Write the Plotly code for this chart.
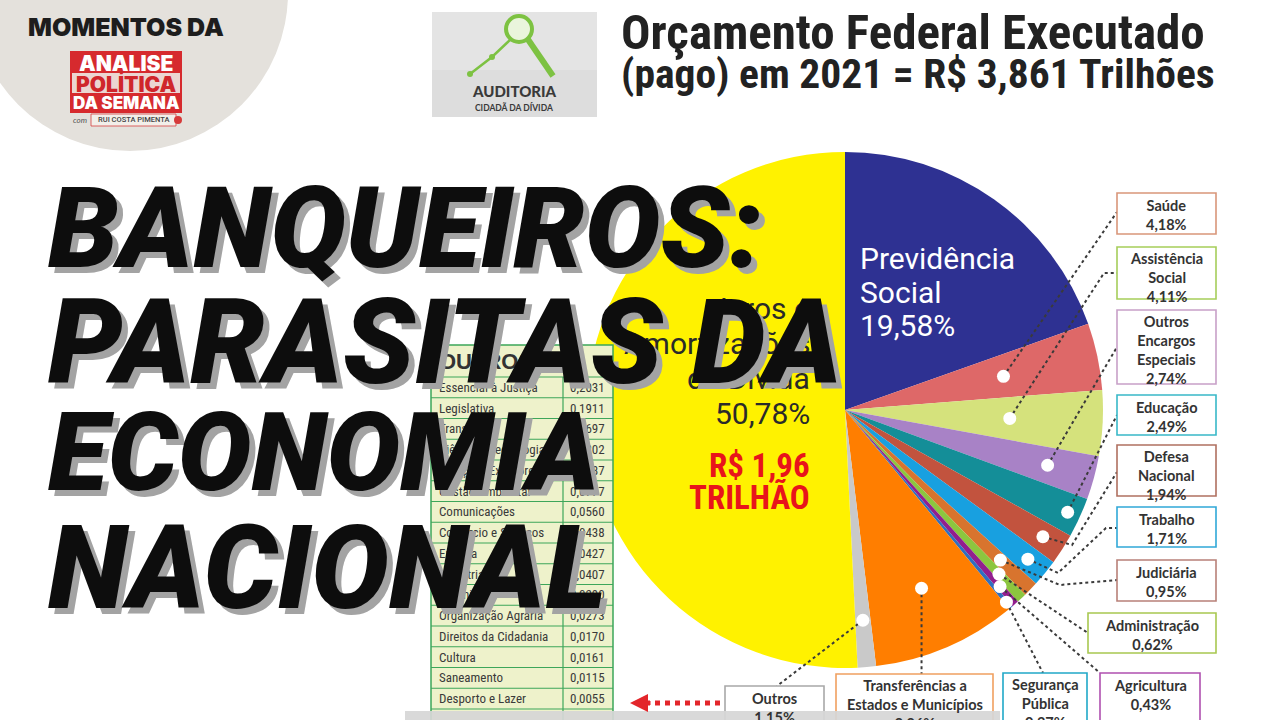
import math
import plotly.graph_objects as go

W, H = 1280, 720


def X(px):
    return px / W


def Y(py):
    return 1 - py / H


# ---------------- data ----------------
categories = [
    "Previdência Social", "Saúde", "Assistência Social", "Outros Encargos Especiais",
    "Educação", "Defesa Nacional", "Trabalho", "Judiciária", "Administração",
    "Agricultura", "Segurança Pública", "Transferências a Estados e Municípios",
    "Outros", "Juros e Amortizações da Dívida",
]
shares = [19.58, 4.18, 4.11, 2.74, 2.49, 1.94, 1.71, 0.95, 0.62, 0.43, 0.27, 9.06, 1.15, 50.78]

outros_items = [
    "Essencial à Justiça", "Legislativa", "Transporte", "Ciência e Tecnologia",
    "Relações Exteriores", "Gestão Ambiental", "Comunicações", "Comércio e Serviços",
    "Energia", "Indústria", "Urbanismo", "Organização Agrária",
    "Direitos da Cidadania", "Cultura", "Saneamento", "Desporto e Lazer",
]
outros_values = [0.2031, 0.1911, 0.1697, 0.1202, 0.0987, 0.0777, 0.0560, 0.0438,
                 0.0427, 0.0407, 0.0290, 0.0273, 0.0170, 0.0161, 0.0115, 0.0055]

total_budget = "3,861"
juros_value = "1,96"

# ---------------- styles / layout ----------------
slice_colors = ["#2E3192", "#DE6868", "#D5E27C", "#A882C6", "#148E98", "#C2533E",
                "#18A0E0", "#D8742E", "#8CC63F", "#921E8E", "#2F6FC0", "#FF7E00",
                "#C9C9C9", "#FFF200"]

# label boxes for slices 1..12 (line-broken names, border colours, box rects in px)
box_names = ["Saúde", "Assistência<br>Social", "Outros<br>Encargos<br>Especiais", "Educação",
             "Defesa<br>Nacional", "Trabalho", "Judiciária", "Administração", "Agricultura",
             "Segurança<br>Pública", "Transferências a<br>Estados e Municípios", "Outros"]
box_borders = ["#D9967A", "#A6CE5A", "#C8A0C8", "#38B8C8", "#B07060", "#30A8D8",
               "#B88078", "#A8C850", "#B050B0", "#20A8C8", "#F0A060", "#A8A8A8"]
box_rects = [(1117, 1216, 193, 234), (1117, 1216, 247, 299), (1117, 1216, 310, 384),
             (1117, 1216, 395, 435), (1117, 1216, 445, 496), (1117, 1216, 507, 547),
             (1117, 1216, 560, 601), (1088, 1216, 613, 653), (1100, 1200, 673, 745),
             (1003, 1087, 673, 745), (836, 993, 674, 745), (725, 824, 686, 745)]
dot_radius = [162, 165, 210, 245, 235, 236, 216, 225, 235, 251, 194, 211]
leader_pts = [[(1117, 212)], [(1104, 273), (1117, 273)], [(1117, 347)], [(1117, 415)],
              [(1072, 545), (1117, 472)], [(1058, 573), (1106, 528), (1117, 528)],
              [(1060, 585), (1117, 580)], [(1088, 633)], [(1100, 673)], [(1043, 673)],
              [None], [(777, 686)]]

PIE_CX, PIE_CY, PIE_R = 845, 410, 258


def pct(v):
    return f"{v:.2f}".replace(".", ",") + "%"


fig = go.Figure()
fig.add_trace(go.Pie(
    values=shares, labels=categories, sort=False, direction="clockwise", rotation=0,
    marker=dict(colors=slice_colors, line=dict(width=0)), textinfo="none",
    hoverinfo="label+percent", showlegend=False,
    domain=dict(x=[X(PIE_CX - PIE_R), X(PIE_CX + PIE_R)],
                y=[Y(PIE_CY + PIE_R), Y(PIE_CY - PIE_R)]),
))

shapes = []
ann = []


def rect(x0, x1, y0, y1, fill, line=None, lw=0, layer="above", opacity=1):
    shapes.append(dict(type="rect", xref="paper", yref="paper", x0=X(x0), x1=X(x1),
                       y0=Y(y1), y1=Y(y0), fillcolor=fill, opacity=opacity, layer=layer,
                       line=dict(color=line or fill, width=lw)))


def text(s, x, y, size, color="#222", family="Lato", weight="normal", xanchor="center",
         yanchor="middle", style="normal", shadow="none", align="center"):
    ann.append(dict(text=s, x=X(x), y=Y(y), xref="paper", yref="paper", showarrow=False,
                    xanchor=xanchor, yanchor=yanchor, align=align,
                    font=dict(size=size, color=color, family=family, weight=weight,
                              style=style, shadow=shadow)))


# top-left grey disc
shapes.append(dict(type="circle", xref="paper", yref="paper", x0=X(-28), x1=X(288),
                   y0=Y(151), y1=Y(-165), fillcolor="#E4E1DC", line=dict(width=0),
                   layer="below"))
text("MOMENTOS DA", 126, 27, 25, "#1d1d1d", "Inter, Montserrat, sans-serif", 900)
rect(70, 182, 51, 113, "#D62A2E")
rect(72, 180, 73, 93, "#EBD6D2")
text("ANALISE", 126, 63, 21, "#ffffff", "Inter, sans-serif", 900)
text("POLÍTICA", 126, 84, 21, "#D0262B", "Inter, sans-serif", 900)
text("DA SEMANA", 126, 103, 17, "#ffffff", "Inter, sans-serif", 900)
text("com", 80, 120, 8, "#555", "Lato", "normal", style="italic")
rect(91, 176, 114, 126, "#F2EFEA", "#D64040", 0.8)
text("RUI COSTA PIMENTA", 133, 120, 7.5, "#444", "Roboto, sans-serif", 500)
shapes.append(dict(type="circle", xref="paper", yref="paper", x0=X(174), x1=X(182),
                   y0=Y(124), y1=Y(116), fillcolor="#D63A3A", line=dict(width=0)))

# Auditoria Cidadã logo
rect(432, 597, 12, 117, "#E4E4E4", layer="below")
rect(432, 597, 70, 117, "#D9D9D9", layer="below", opacity=0.6)
shapes.append(dict(type="path", xref="paper", yref="paper", layer="above",
                   path=f"M{X(470)},{Y(74)} L{X(492)},{Y(57)} L{X(510)},{Y(40)}",
                   line=dict(color="#7DC242", width=2.5)))
shapes.append(dict(type="line", xref="paper", yref="paper", x0=X(527), y0=Y(38),
                   x1=X(553), y1=Y(76), line=dict(color="#7DC242", width=6), layer="above"))
shapes.append(dict(type="circle", xref="paper", yref="paper", x0=X(506), x1=X(532),
                   y0=Y(42), y1=Y(16), fillcolor="#EAF5DC",
                   line=dict(color="#7DC242", width=4), layer="above"))
for (px, py) in [(470, 74), (492, 57)]:
    shapes.append(dict(type="circle", xref="paper", yref="paper", x0=X(px - 3), x1=X(px + 3),
                       y0=Y(py + 3), y1=Y(py - 3), fillcolor="#7DC242", line=dict(width=0)))
text("AUDITORIA", 514, 91, 15, "#3a3a3a", "Lato, sans-serif", 900)
text("CIDADÃ DA DÍVIDA", 514, 107, 8.5, "#3a3a3a", "Lato, sans-serif", 700)

# title
title_font = "Liberation Sans Narrow, Roboto Condensed, DejaVu Sans Condensed, Roboto, sans-serif"
text("Orçamento Federal Executado", 619, 33, 49, "#222", title_font, 700, xanchor="left")
text(f"(pago) em 2021 = R$ {total_budget} Trilhões", 619, 74, 41.5, "#222", title_font, 700,
     xanchor="left")

# leader lines & dots
tot = sum(shares)
cum = 0.0
dots = []
for i, v in enumerate(shares):
    mid = (cum + v / 2) / tot * 2 * math.pi
    cum += v
    if 1 <= i <= 12:
        r = dot_radius[i - 1]
        dx = PIE_CX + r * math.sin(mid)
        dy = PIE_CY - r * math.cos(mid)
        dots.append((dx, dy))
        pts = [(dx, dy)]
        for p in leader_pts[i - 1]:
            pts.append(p if p is not None else (dx, box_rects[i - 1][2]))
        path = "M" + " L".join(f"{X(a)},{Y(b)}" for a, b in pts)
        shapes.append(dict(type="path", xref="paper", yref="paper", path=path, layer="above",
                           line=dict(color="#3a3a3a", width=2, dash="dot")))
for dx, dy in dots:
    shapes.append(dict(type="circle", xref="paper", yref="paper", x0=X(dx - 6.5),
                       x1=X(dx + 6.5), y0=Y(dy + 6.5), y1=Y(dy - 6.5),
                       fillcolor="#ffffff", line=dict(width=0), layer="above"))

# label boxes
for k in range(12):
    x0, x1, y0, y1 = box_rects[k]
    rect(x0, x1, y0, y1, "#ffffff", box_borders[k], 1.6)
    nlines = box_names[k].count("<br>") + 2
    ty = y0 + 3 + nlines * 18.6 / 2
    text(box_names[k] + "<br>" + pct(shares[k + 1]), (x0 + x1) / 2, ty, 14.5, "#333",
         "Lato, Open Sans, sans-serif", 700)

# red arrow near "Outros"
shapes.append(dict(type="line", xref="paper", yref="paper", x0=X(645), x1=X(722),
                   y0=Y(703), y1=Y(703), line=dict(color="#E3262B", width=5, dash="dot"),
                   layer="above"))
ann.append(dict(x=X(630), y=Y(703), xref="paper", yref="paper", ax=22, ay=0, text="",
                showarrow=True, arrowhead=2, arrowsize=0.9, arrowwidth=4,
                arrowcolor="#E3262B"))

# "Outros" table
TX0, TX1, TCOL = 431, 613, 563
HY0, HY1, ROW_H = 345, 377, 20.75
GREEN = "#3DA65A"
rect(TX0, TX1, HY0, 745, "#EEF2CB", GREEN, 1.5)
shapes.append(dict(type="line", xref="paper", yref="paper", x0=X(TCOL), x1=X(TCOL),
                   y0=Y(HY1), y1=Y(745), line=dict(color=GREEN, width=1.2), layer="above"))
text("OUTROS", 437, 361, 22, "#333", "Liberation Sans, Arial, sans-serif", 700,
     xanchor="left")
for i, (nm, val) in enumerate(zip(outros_items, outros_values)):
    ry0 = HY1 + i * ROW_H
    shapes.append(dict(type="line", xref="paper", yref="paper", x0=X(TX0), x1=X(TX1),
                       y0=Y(ry0), y1=Y(ry0), line=dict(color=GREEN, width=1.2),
                       layer="above"))
    text(nm, 437, ry0 + ROW_H / 2, 13, "#3a3a3a", title_font, 400, xanchor="left")
    text(f"{val:.4f}".replace(".", ","), 568, ry0 + ROW_H / 2, 13, "#3a3a3a", title_font,
         400, xanchor="left")
shapes.append(dict(type="line", xref="paper", yref="paper", x0=X(TX0), x1=X(TX1),
                   y0=Y(HY1 + len(outros_items) * ROW_H), y1=Y(HY1 + len(outros_items) * ROW_H),
                   line=dict(color=GREEN, width=1.2), layer="above"))

# labels inside the pie
prev_lines = ["Previdência", "Social", pct(shares[0])]
for j, s in enumerate(prev_lines):
    text(s, 858, 258 + j * 34, 30, "#ffffff", "Roboto, sans-serif", 400, xanchor="left")
juros_lines = ["Juros e", "Amortizações", "da Dívida", pct(shares[13])]
for j, s in enumerate(juros_lines):
    text(s, 812, 308 + j * 35, 30, "#2a2a2a", "Roboto, sans-serif", 400, xanchor="right")
text(f"R$ {juros_value}", 812, 465, 33, "#E8141B", title_font, 700, xanchor="right")
text("TRILHÃO", 812, 497, 33, "#E8141B", title_font, 700, xanchor="right")

# bottom grey caption strip
rect(405, 1000, 711, 722, "#D6D6D6", opacity=0.92)

# big headline
big_lines = ["BANQUEIROS:", "PARASITAS DA", "ECONOMIA", "NACIONAL"]
big_y = [228, 343, 452, 568]
big_size = [113, 118, 110, 116]
for s, yy, fs in zip(big_lines, big_y, big_size):
    text(s, 46, yy, fs, "#0d0d0d", "Roboto, Inter, sans-serif", 900, xanchor="left",
         style="italic", shadow="6px 6px 0px #a3a3a3")

fig.update_layout(
    width=W, height=H, margin=dict(l=0, r=0, t=0, b=0),
    paper_bgcolor="#ffffff", plot_bgcolor="#ffffff",
    shapes=shapes, annotations=ann, showlegend=False,
    xaxis=dict(visible=False), yaxis=dict(visible=False),
)
fig.write_html(
    "out.html",
    config={"displayModeBar": False},
    post_script="document.body.style.margin='0';document.body.style.overflow='hidden';",
)
